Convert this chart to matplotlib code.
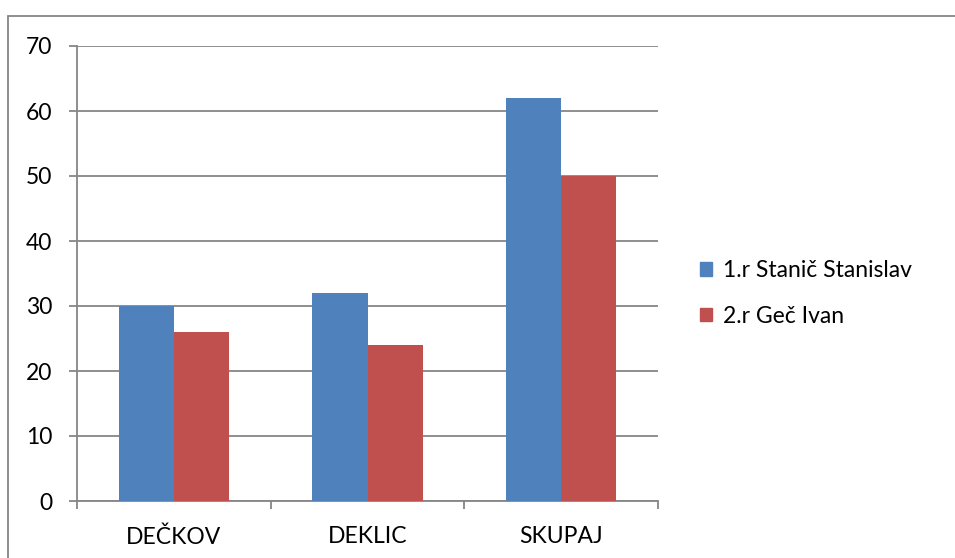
import matplotlib
matplotlib.use("Agg")
import matplotlib.pyplot as plt
import matplotlib.patches as mpatches
import numpy as np

# ── data ───────────────────────────────────────────────────────────────────────
categories = ["DEČKOV", "DEKLIC", "SKUPAJ"]
series_names = ["1.r Stanič Stanislav", "2.r Geč Ivan"]
stanic = [30, 32, 62]
gec = [26, 24, 50]
y_ticks = [0, 10, 20, 30, 40, 50, 60, 70]

BLUE = "#4F81BD"
RED = "#C0504D"
GRID = "#868686"
FS = 16.5

plt.rcParams["font.family"] = ["Lato", "DejaVu Sans"]

fig = plt.figure(figsize=(9.55, 5.58), dpi=100)
ax = fig.add_axes([77 / 955, 1 - 501 / 558, 581 / 955, 455 / 558])

# outer chart frame (right/bottom edges fall outside the image)
fig.patches.append(mpatches.Rectangle((8 / 955, -0.2), 1.2, 1 - 16 / 558 + 0.2,
                                      transform=fig.transFigure, fill=False,
                                      edgecolor=GRID, lw=1.3, clip_on=False))

x = np.arange(len(categories))
w = 0.284
ax.bar(x - w / 2, stanic, w, color=BLUE, label=series_names[0], zorder=3)
ax.bar(x + w / 2, gec, w, color=RED, label=series_names[1], zorder=3)

ax.set_xlim(-0.5, len(categories) - 0.5)
ax.set_ylim(0, 70)
ax.set_yticks(y_ticks)
ax.yaxis.grid(True, color=GRID, lw=1.3, zorder=0)
ax.set_axisbelow(True)

for s in ("top", "right"):
    ax.spines[s].set_visible(False)
for s in ("left", "bottom"):
    ax.spines[s].set_color(GRID)
    ax.spines[s].set_linewidth(1.3)

ax.set_xticks(x)
ax.set_xticklabels(categories, fontsize=FS)
ax.tick_params(axis="x", length=0, pad=18)
ax.set_xticks(np.arange(len(categories) + 1) - 0.5, minor=True)
ax.tick_params(axis="x", which="minor", length=6, color=GRID, width=1.3)
ax.tick_params(axis="y", length=6, color=GRID, width=1.3, labelsize=FS, pad=12)

h = [mpatches.Patch(color=BLUE), mpatches.Patch(color=RED)]
fig.legend(h, series_names, loc="center left", bbox_to_anchor=(0.711, 0.474),
           frameon=False, fontsize=FS, handlelength=0.55, handleheight=0.55,
           handletextpad=0.45, labelspacing=1.05)

fig.savefig("out.png", dpi=100)
